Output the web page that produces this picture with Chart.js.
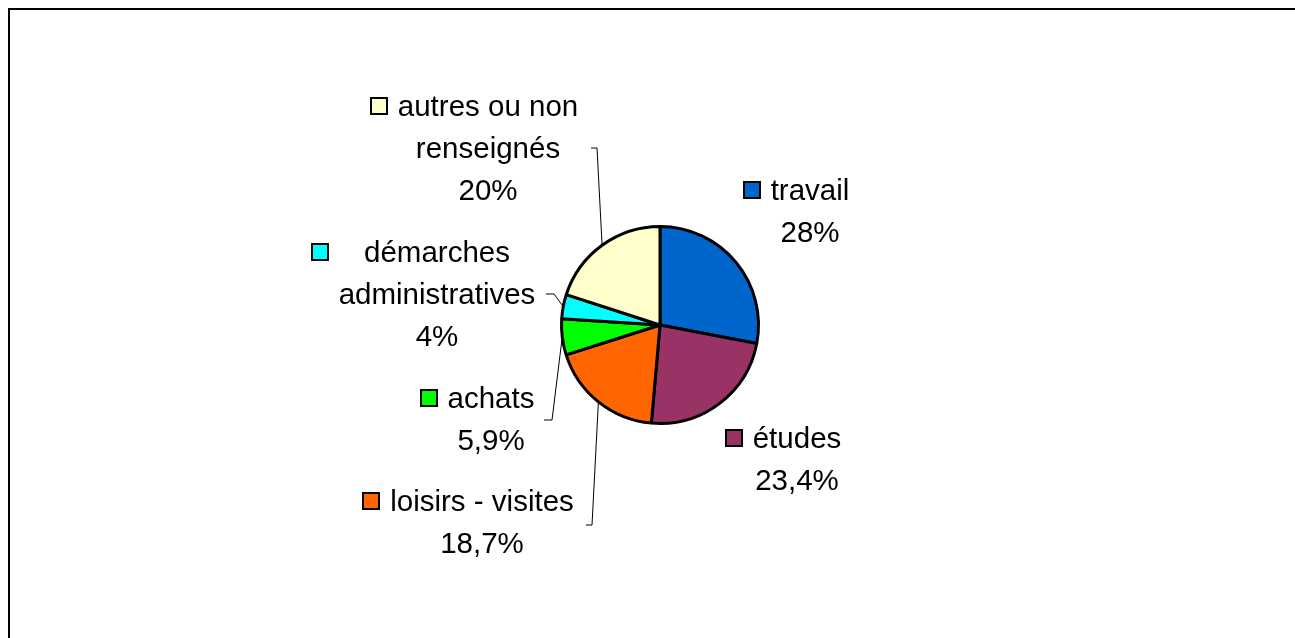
<!DOCTYPE html>
<html>
<head>
<meta charset="utf-8">
<script src="https://cdn.jsdelivr.net/npm/chart.js@4.4.0/dist/chart.umd.min.js"></script>
<style>
  html, body { margin: 0; padding: 0; background: #fff; overflow: hidden; }
  #box { position: absolute; left: 8px; top: 8px; width: 1400px; height: 800px; border: 2px solid #000; }
  #chart { position: absolute; left: 0; top: 0; }
</style>
</head>
<body>
<div id="box"></div>
<canvas id="chart" width="1295" height="638"></canvas>
<script>
const categories = ["travail", "études", "loisirs - visites", "achats", "démarches administratives", "autres ou non renseignés"];
const values = [28, 23.4, 18.7, 5.9, 4, 20];
const valueLabels = ["28%", "23,4%", "18,7%", "5,9%", "4%", "20%"];
const colors = ["#0066CC", "#993366", "#FF6600", "#00FF00", "#00FFFF", "#FFFFCC"];

// text lines of each label (wrapped like the original)
const labelLines = [
    ["travail"],
    ["études"],
    ["loisirs - visites"],
    ["achats"],
    ["démarches", "administratives"],
    ["autres ou non", "renseignés"]
];

// where each label sits: centre x of the text, centre y of first line,
// and optional leader line (elbow point, end point)
const labelLayout = [
    {x: 810, y: 192},
    {x: 797, y: 440},
    {x: 482, y: 503, elbow: [592, 525], end: [586, 525]},
    {x: 491, y: 400, elbow: [552, 420], end: [544, 420]},
    {x: 437, y: 254, elbow: [554, 294], end: [546, 294]},
    {x: 488, y: 108, elbow: [597, 148], end: [591, 148]}
];

const FONT = '29.5px "Liberation Sans", Arial, sans-serif';
const LINE_H = 42;

const labelPlugin = {
    id: "labels",
    afterDraw(chart){
        const ctx = chart.ctx;
        const arcs = chart.getDatasetMeta(0).data;
        ctx.save();
        ctx.font = FONT;
        ctx.textAlign = "center";
        ctx.textBaseline = "middle";
        arcs.forEach((arc, i) => {
            const lay = labelLayout[i];
            const lines = labelLines[i].concat([valueLabels[i]]);

            // leader line from the middle of the slice edge
            if(lay.elbow){
                const p = arc.getProps(["x", "y", "startAngle", "endAngle", "outerRadius"], true);
                const mid = (p.startAngle + p.endAngle) / 2;
                const sx = p.x + Math.cos(mid) * p.outerRadius;
                const sy = p.y + Math.sin(mid) * p.outerRadius;
                ctx.strokeStyle = "#000";
                ctx.lineWidth = 1;
                ctx.beginPath();
                ctx.moveTo(sx, sy);
                ctx.lineTo(lay.elbow[0], lay.elbow[1]);
                ctx.lineTo(lay.end[0], lay.end[1]);
                ctx.stroke();
            }

            let left = Infinity;
            lines.forEach((t, k) => {
                const w = ctx.measureText(t).width;
                left = Math.min(left, lay.x - w / 2);
                ctx.fillStyle = "#000";
                ctx.fillText(t, lay.x, lay.y + k * LINE_H);
            });

            // legend key
            const ks = 16;
            const kx = Math.round(left - 11 - ks);
            const ky = Math.round(lay.y - 2 - ks / 2);
            ctx.fillStyle = colors[i];
            ctx.fillRect(kx, ky, ks, ks);
            ctx.strokeStyle = "#000";
            ctx.lineWidth = 2;
            ctx.strokeRect(kx, ky, ks, ks);
        });
        ctx.restore();
    }
};

const R = 100;
const CX = 660, CY = 325;

new Chart(document.getElementById("chart"), {
    type: "pie",
    data: {
        labels: categories,
        datasets: [{
            data: values,
            backgroundColor: colors,
            borderColor: "#000",
            borderWidth: 3
        }]
    },
    options: {
        responsive: false,
        animation: false,
        layout: {
            padding: {left: CX - R, right: 1295 - CX - R, top: CY - R, bottom: 638 - CY - R}
        },
        plugins: {
            legend: {display: false},
            tooltip: {enabled: false}
        }
    },
    plugins: [labelPlugin]
});
</script>
</body>
</html>
